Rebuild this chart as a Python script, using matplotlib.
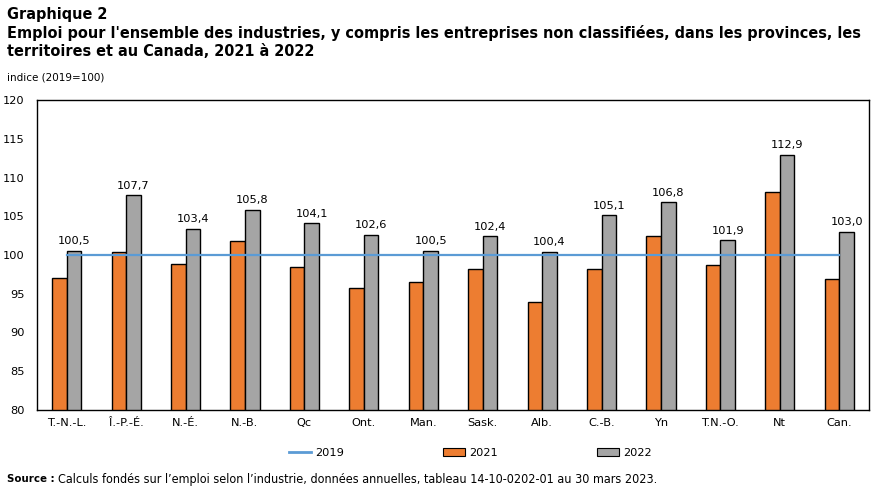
import matplotlib
matplotlib.use("Agg")
import matplotlib.pyplot as plt
import numpy as np
from matplotlib import font_manager
from matplotlib.lines import Line2D
from matplotlib.patches import Patch

categories = ["T.-N.-L.", "Î.-P.-É.", "N.-É.", "N.-B.", "Qc", "Ont.", "Man.",
              "Sask.", "Alb.", "C.-B.", "Yn", "T.N.-O.", "Nt", "Can."]
v2019 = [100] * 14
v2021 = [97.0, 100.4, 98.8, 101.8, 98.5, 95.8, 96.5, 98.2, 93.9, 98.2, 102.5, 98.7, 108.1, 96.9]
v2022 = [100.5, 107.7, 103.4, 105.8, 104.1, 102.6, 100.5, 102.4, 100.4, 105.1, 106.8, 101.9, 112.9, 103.0]
yticks = [80, 85, 90, 95, 100, 105, 110, 115, 120]

body_font = "DejaVu Sans"
plt.rcParams['font.family'] = [body_font]
has_cond = any(f.name == "DejaVu Sans" and f.stretch == "condensed" for f in font_manager.fontManager.ttflist)
title_kw = dict(family="DejaVu Sans", stretch="condensed") if has_cond else dict(family="Liberation Sans")

c2019 = "#5B9BD5"
c2021 = "#ED7D31"
c2022 = "#A5A5A5"

fig = plt.figure(figsize=(8.88, 4.92), dpi=100)
ax = fig.add_axes([37/888, 1 - 410/492, (869-37)/888, 310/492])

x = np.arange(len(categories))
w = 0.245
ax.bar(x - w/2, v2021, width=w, color=c2021, edgecolor="black", linewidth=1.0, zorder=2)
ax.bar(x + w/2, v2022, width=w, color=c2022, edgecolor="black", linewidth=1.0, zorder=2)
ax.plot(x, v2019, color=c2019, linewidth=1.6, zorder=3)

for xi, v in zip(x, v2022):
    ax.text(xi + w/2, v + 0.6, f"{v:.1f}".replace(".", ","), ha="center", va="bottom",
            fontsize=8.2, color="black")

ax.set_ylim(80, 120)
ax.set_xlim(-0.5, len(categories) - 0.5)
ax.set_yticks(yticks)
ax.set_xticks(x)
ax.set_xticklabels(categories)
ax.tick_params(axis="both", length=0, labelsize=8.2, pad=6)
ax.tick_params(axis="y", pad=9)
for s in ax.spines.values():
    s.set_color("black")
    s.set_linewidth(1.0)

t1 = fig.text(7/888, 1 - 15/492, "Graphique 2", fontsize=11, fontweight="bold",
              va="center", ha="left", **title_kw)
t2 = fig.text(7/888, 1 - 42/492,
              "Emploi pour l'ensemble des industries, y compris les entreprises non classifiées, dans les provinces, les\nterritoires et au Canada, 2021 à 2022",
              fontsize=11, fontweight="bold", va="center", ha="left", linespacing=1.2, **title_kw)
fig.text(7/888, 1 - 78/492, "indice (2019=100)", fontsize=7.5, va="center", ha="left")

# fit title width to reference (~853 px)
fig.canvas.draw()
r = fig.canvas.get_renderer()
wpx = t2.get_window_extent(r).width
fs = 11 * 853 / wpx
t2.set_fontsize(fs)
t1.set_fontsize(fs)

handles = [Line2D([0], [0], color=c2019, linewidth=2),
           Patch(facecolor=c2021, edgecolor="black", linewidth=0.8),
           Patch(facecolor=c2022, edgecolor="black", linewidth=0.8)]
fig.legend(handles, ["2019", "2021", "2022"], loc="center", bbox_to_anchor=(470/888, 1 - 453/492),
           ncol=3, frameon=False, fontsize=8.2, columnspacing=8.7, handlelength=2.0,
           handletextpad=0.3, handleheight=0.6)

s1 = fig.text(7/888, 1 - 479/492, "Source :", fontsize=8.2, fontweight="bold",
              va="center", ha="left", **title_kw)
fig.canvas.draw()
sx = s1.get_window_extent(fig.canvas.get_renderer()).x1
fig.text((sx + 3)/888, 1 - 479/492,
         "Calculs fondés sur l’emploi selon l’industrie, données annuelles, tableau 14-10-0202-01 au 30 mars 2023.",
         fontsize=9.0, va="center", ha="left", **title_kw)

fig.savefig("out.png", dpi=100)
